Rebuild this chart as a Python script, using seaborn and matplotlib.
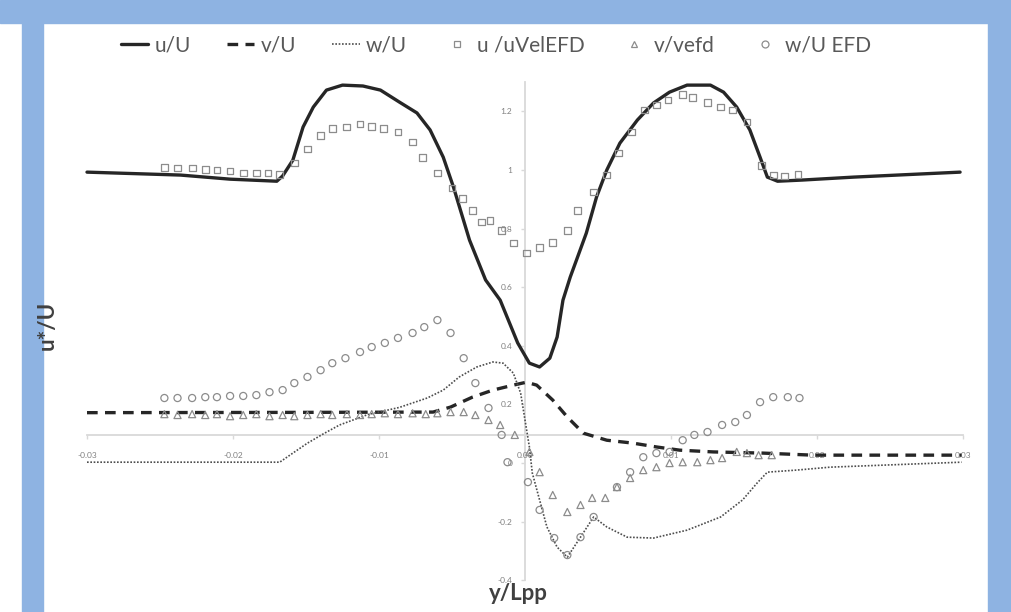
import matplotlib
matplotlib.use("Agg")
import matplotlib.pyplot as plt
from matplotlib.patches import Rectangle
from matplotlib.lines import Line2D
import seaborn as sns
import pandas as pd

# CFD curves
u_x = [-0.0300, -0.0236, -0.0202, -0.0170, -0.0166, -0.0159, -0.0152, -0.0145, -0.0136, -0.0125,
       -0.0111, -0.0099, -0.0086, -0.0074, -0.0065, -0.0056, -0.0049, -0.0038, -0.0027, -0.0017,
       -0.0005, 0.0003, 0.0010, 0.0017, 0.0022, 0.0026, 0.0031, 0.0036, 0.0042, 0.0049,
       0.0056, 0.0065, 0.0077, 0.0088, 0.0099, 0.0111, 0.0127, 0.0136, 0.0145, 0.0154,
       0.0161, 0.0166, 0.0173, 0.0190, 0.0225, 0.0298]
u_cfd = [0.993, 0.983, 0.969, 0.962, 0.980, 1.034, 1.147, 1.215, 1.273, 1.290,
         1.287, 1.273, 1.232, 1.195, 1.137, 1.044, 0.942, 0.761, 0.625, 0.556,
         0.410, 0.341, 0.328, 0.358, 0.430, 0.556, 0.635, 0.703, 0.785, 0.908,
         1.000, 1.092, 1.171, 1.229, 1.266, 1.290, 1.290, 1.266, 1.215, 1.137,
         1.044, 0.976, 0.962, 0.966, 0.976, 0.993]

v_x = [-0.0300, -0.0154, -0.0063, -0.0051, -0.0036, -0.0022, -0.0008, 0.0001, 0.0008, 0.0019,
       0.0029, 0.0040, 0.0056, 0.0074, 0.0090, 0.0106, 0.0129, 0.0163, 0.0197, 0.0299]
v_cfd = [0.172, 0.173, 0.174, 0.191, 0.225, 0.249, 0.266, 0.276, 0.266, 0.215,
         0.157, 0.102, 0.078, 0.068, 0.055, 0.044, 0.038, 0.034, 0.027, 0.027]

w_x = [-0.0300, -0.0168, -0.0159, -0.0149, -0.0138, -0.0127, -0.0108, -0.0086, -0.0067, -0.0056,
       -0.0045, -0.0033, -0.0022, -0.0015, -0.0008, -0.0003, 0.0000, 0.0003, 0.0005, 0.0010,
       0.0015, 0.0022, 0.0029, 0.0038, 0.0047, 0.0056, 0.0070, 0.0088, 0.0111, 0.0134,
       0.0149, 0.0159, 0.0166, 0.0186, 0.0209, 0.0299]
w_cfd = [0.003, 0.003, 0.034, 0.068, 0.100, 0.130, 0.165, 0.190, 0.222, 0.249,
         0.294, 0.328, 0.345, 0.341, 0.307, 0.239, 0.147, 0.055, -0.034, -0.126,
         -0.218, -0.287, -0.321, -0.253, -0.184, -0.218, -0.253, -0.256, -0.229, -0.184,
         -0.126, -0.068, -0.031, -0.024, -0.014, 0.003]

# EFD points
u_efd_x = [-0.0247, -0.0238, -0.0228, -0.0219, -0.0211, -0.0202, -0.0193, -0.0184, -0.0176, -0.0168,
           -0.0158, -0.0149, -0.0140, -0.0132, -0.0122, -0.0113, -0.0105, -0.0097, -0.0087, -0.0077,
           -0.0070, -0.0060, -0.0050, -0.0043, -0.0036, -0.0030, -0.0024, -0.0016, -0.0008, 0.0001,
           0.0010, 0.0019, 0.0029, 0.0036, 0.0047, 0.0056, 0.0064, 0.0073, 0.0082, 0.0090,
           0.0098, 0.0108, 0.0115, 0.0125, 0.0134, 0.0142, 0.0152, 0.0162, 0.0170, 0.0178, 0.0187]
u_efd = [1.010, 1.007, 1.007, 1.003, 1.000, 0.997, 0.990, 0.990, 0.990, 0.986,
         1.024, 1.072, 1.119, 1.143, 1.147, 1.157, 1.150, 1.143, 1.130, 1.096,
         1.044, 0.990, 0.939, 0.904, 0.863, 0.823, 0.829, 0.795, 0.751, 0.717,
         0.737, 0.754, 0.795, 0.863, 0.925, 0.983, 1.058, 1.130, 1.205, 1.222,
         1.239, 1.259, 1.249, 1.232, 1.215, 1.205, 1.164, 1.017, 0.983, 0.980, 0.986]

v_efd_x = [-0.0247, -0.0238, -0.0228, -0.0219, -0.0211, -0.0202, -0.0193, -0.0184, -0.0175, -0.0166,
           -0.0158, -0.0149, -0.0140, -0.0132, -0.0122, -0.0113, -0.0105, -0.0096, -0.0087, -0.0077,
           -0.0068, -0.0060, -0.0051, -0.0042, -0.0034, -0.0025, -0.0017, -0.0007, 0.0003, 0.0010,
           0.0019, 0.0029, 0.0038, 0.0046, 0.0055, 0.0063, 0.0072, 0.0081, 0.0090, 0.0099,
           0.0108, 0.0118, 0.0127, 0.0135, 0.0145, 0.0152, 0.0160, 0.0169]
v_efd = [0.167, 0.164, 0.167, 0.164, 0.167, 0.160, 0.164, 0.167, 0.160, 0.164,
         0.160, 0.164, 0.167, 0.164, 0.167, 0.164, 0.167, 0.170, 0.167, 0.170,
         0.167, 0.170, 0.174, 0.174, 0.164, 0.147, 0.130, 0.096, 0.038, -0.031,
         -0.109, -0.167, -0.143, -0.119, -0.119, -0.082, -0.051, -0.024, -0.014, 0.000,
         0.003, 0.003, 0.010, 0.017, 0.038, 0.034, 0.027, 0.027]

w_efd_x = [-0.0247, -0.0238, -0.0228, -0.0219, -0.0211, -0.0202, -0.0193, -0.0184, -0.0175, -0.0166,
           -0.0158, -0.0149, -0.0140, -0.0132, -0.0123, -0.0113, -0.0105, -0.0096, -0.0087, -0.0077,
           -0.0069, -0.0060, -0.0051, -0.0042, -0.0034, -0.0025, -0.0016, -0.0012, 0.0002, 0.0010,
           0.0020, 0.0029, 0.0038, 0.0047, 0.0063, 0.0072, 0.0081, 0.0090, 0.0099, 0.0108,
           0.0116, 0.0125, 0.0135, 0.0144, 0.0152, 0.0161, 0.0170, 0.0180, 0.0188]
w_efd = [0.222, 0.222, 0.222, 0.225, 0.225, 0.229, 0.229, 0.232, 0.242, 0.249,
         0.273, 0.294, 0.317, 0.341, 0.358, 0.379, 0.396, 0.410, 0.427, 0.444,
         0.464, 0.488, 0.444, 0.358, 0.273, 0.188, 0.096, 0.003, -0.065, -0.160,
         -0.256, -0.314, -0.253, -0.184, -0.082, -0.031, 0.020, 0.034, 0.038, 0.078,
         0.096, 0.106, 0.130, 0.140, 0.164, 0.208, 0.225, 0.225, 0.222]

x_ticks = [-0.03, -0.02, -0.01, 0.0, 0.01, 0.02, 0.03]
y_ticks = [-0.4, -0.2, 0.0, 0.2, 0.4, 0.6, 0.8, 1.0, 1.2]

sns.set_theme(style="white")
plt.rcParams['font.family'] = ['Lato', 'DejaVu Sans']

W, H = 1011, 612
fig = plt.figure(figsize=(W / 100, H / 100), dpi=100)
fig.patch.set_facecolor("white")

# blue frame bands around the chart
blue = "#8EB3E2"
fig.add_artist(Rectangle((0, 1 - 23 / H), 1, 23 / H, transform=fig.transFigure, color=blue, zorder=0))
fig.add_artist(Rectangle((22 / W, 0), 21 / W, 1 - 23 / H, transform=fig.transFigure, color=blue, zorder=0))
fig.add_artist(Rectangle((988 / W, 0), 23 / W, 1 - 23 / H, transform=fig.transFigure, color=blue, zorder=0))

ax = fig.add_axes([72.4 / W, 0.0423, 905.2 / W, 0.8617])
ax.patch.set_alpha(0)

dark = "#262626"
grey = "#8c8c8c"

df_u = pd.DataFrame({"y/Lpp": u_x, "val": u_cfd})
df_v = pd.DataFrame({"y/Lpp": v_x, "val": v_cfd})
df_w = pd.DataFrame({"y/Lpp": w_x, "val": w_cfd})

sns.lineplot(data=df_u, x="y/Lpp", y="val", sort=False, estimator=None, ax=ax,
             color=dark, linewidth=2.4)
sns.lineplot(data=df_v, x="y/Lpp", y="val", sort=False, estimator=None, ax=ax,
             color=dark, linewidth=2.4, linestyle=(0, (3.2, 2.2)))
sns.lineplot(data=df_w, x="y/Lpp", y="val", sort=False, estimator=None, ax=ax,
             color="#4d4d4d", linewidth=1.2, linestyle=(0, (1, 1)))

sns.scatterplot(x=u_efd_x, y=u_efd, marker="s", s=24, color=grey, facecolor="none",
                edgecolor=grey, linewidth=0.9, ax=ax, zorder=3)
sns.scatterplot(x=v_efd_x, y=v_efd, marker="^", s=26, color=grey, facecolor="none",
                edgecolor=grey, linewidth=0.9, ax=ax, zorder=3)
sns.scatterplot(x=w_efd_x, y=w_efd, marker="o", s=26, color=grey, facecolor="none",
                edgecolor=grey, linewidth=0.9, ax=ax, zorder=3)

ax.set_xlim(-0.031, 0.031)
ax.set_ylim(-0.42, 1.38)
ax.set_xlabel("")
ax.set_ylabel("")

axis_col = "#d9d9d9"
for s in ["top", "right"]:
    ax.spines[s].set_visible(False)
ax.spines["bottom"].set_position(("data", 0.096))
ax.spines["bottom"].set_bounds(-0.03, 0.03)
ax.spines["left"].set_position(("data", 0.0))
ax.spines["left"].set_bounds(-0.4, 1.3)
for s in ["bottom", "left"]:
    ax.spines[s].set_color(axis_col)
    ax.spines[s].set_linewidth(1.3)
    ax.spines[s].set_zorder(0.5)

ax.set_xticks(x_ticks)
ax.set_xticklabels([f"{t:.2f}" for t in x_ticks])
ax.set_yticks(y_ticks)
ax.set_yticklabels([f"{t:g}" for t in y_ticks])
ax.tick_params(axis="x", direction="out", length=3, width=1, color=axis_col,
               labelsize=6, labelcolor="#808080", pad=9, bottom=True)
ax.tick_params(axis="y", direction="out", length=3, width=1, color=axis_col,
               labelsize=6, labelcolor="#808080", pad=6, left=True)

fig.text(47 / W, 1 - 325 / H, "u*/U", rotation=90, ha="center", va="center",
         fontsize=16, fontweight="bold", color="#404040")
fig.text(518 / W, 1 - 593 / H, "y/Lpp", ha="center", va="center",
         fontsize=16, fontweight="bold", color="#404040")

handles = [
    Line2D([], [], color=dark, linewidth=2.4),
    Line2D([], [], color=dark, linewidth=2.4, linestyle=(0, (3.2, 2.2))),
    Line2D([], [], color="#4d4d4d", linewidth=1.2, linestyle=(0, (1, 1))),
    Line2D([], [], linestyle="none", marker="s", markersize=5, markerfacecolor="none",
           markeredgecolor=grey, markeredgewidth=0.9),
    Line2D([], [], linestyle="none", marker="^", markersize=5, markerfacecolor="none",
           markeredgecolor=grey, markeredgewidth=0.9),
    Line2D([], [], linestyle="none", marker="o", markersize=5, markerfacecolor="none",
           markeredgecolor=grey, markeredgewidth=0.9),
]
labels = ["u/U", "v/U", "w/U", "u /uVelEFD", "v/vefd", "w/U EFD"]
fig.legend(handles, labels, loc="center", bbox_to_anchor=(496 / W, 1 - 45 / H), ncol=6,
           frameon=False, fontsize=15, handlelength=1.3, handletextpad=0.3,
           columnspacing=1.75, labelcolor="#595959")

fig.savefig("out.png", dpi=100)
